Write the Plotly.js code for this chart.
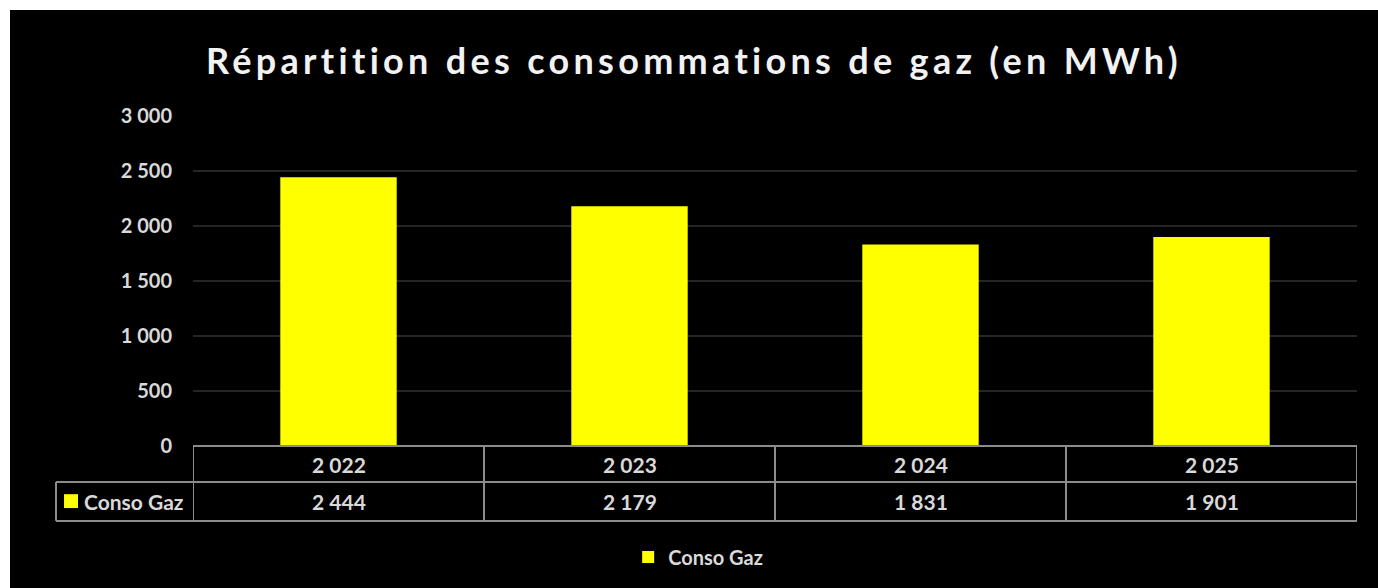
<!DOCTYPE html>
<html><head><meta charset="utf-8">
<script src="https://cdn.plot.ly/plotly-3.0.1.min.js"></script>
<style>
html,body{margin:0;padding:0;background:#fff;overflow:hidden;}
#chart{position:absolute;left:10px;top:10px;width:1368px;height:578px;background:#000;}
#chart .gtitle{letter-spacing:4.3px;}
</style></head>
<body><div id="chart"></div>
<script>
const categories = [2022, 2023, 2024, 2025];
const consoGaz = [2444, 2179, 1831, 1901];
const seriesName = 'Conso Gaz';
const titleText = 'Répartition des consommations de gaz (en MWh)';

function fmt(n){ return String(n).replace(/\B(?=(\d{3})+(?!\d))/g, ' '); }

const FONT = 'Lato, "Open Sans", sans-serif';
const TXT = '#d9d9d9';
const LINE = '#8c8c8c';
const catLabels = categories.map(fmt);

const row1Y = -0.055, row2Y = -0.167;
const row1Bot = -0.109, row2Bot = -0.227;
const labelLeft = -0.1177;

const shapes = [];
shapes.push({type:'line', xref:'paper', yref:'paper', x0:0, x1:1, y0:0, y1:0, line:{color:LINE, width:2}});
shapes.push({type:'line', xref:'paper', yref:'paper', x0:labelLeft, x1:1, y0:row1Bot, y1:row1Bot, line:{color:LINE, width:2}});
shapes.push({type:'line', xref:'paper', yref:'paper', x0:labelLeft, x1:1, y0:row2Bot, y1:row2Bot, line:{color:LINE, width:2}});
shapes.push({type:'line', xref:'paper', yref:'paper', x0:labelLeft, x1:labelLeft, y0:row1Bot, y1:row2Bot, line:{color:LINE, width:2}});
for (let i = 0; i <= categories.length; i++) {
  shapes.push({type:'line', xref:'x', yref:'paper', x0:i-0.5, x1:i-0.5, y0:0, y1:row2Bot, line:{color:LINE, width:2}});
}
shapes.push({type:'rect', xref:'paper', yref:'paper', x0:-0.1108, x1:-0.0988, y0:-0.146, y1:-0.188, fillcolor:'#ffff00', line:{width:0}});

const annotations = [];
categories.forEach((c, i) => {
  annotations.push({xref:'x', yref:'paper', x:i, y:row1Y, text:catLabels[i], showarrow:false, font:{family:FONT, size:21, color:TXT, weight:700}, yanchor:'middle'});
  annotations.push({xref:'x', yref:'paper', x:i, y:row2Y, text:fmt(consoGaz[i]), showarrow:false, font:{family:FONT, size:21, color:TXT, weight:700}, yanchor:'middle'});
});
annotations.push({xref:'paper', yref:'paper', x:-0.0060, y:row2Y, xanchor:'right', yanchor:'middle', text:seriesName, showarrow:false, font:{family:FONT, size:21, color:TXT, weight:700}});

const trace = {
  type:'bar', x:categories.map(String), y:consoGaz, name:seriesName,
  marker:{color:'#ffff00'}, hoverinfo:'skip'
};

const layout = {
  width:1368, height:578,
  paper_bgcolor:'#000', plot_bgcolor:'#000',
  margin:{l:183, r:21, t:106, b:142},
  separators:', ',
  title:{text:titleText, x:0.5, xanchor:'center', xref:'container', y:1-51/578, yref:'container', yanchor:'middle',
         font:{family:FONT, size:36, color:'#f2f2f2', weight:700}},
  bargap:0.6,
  xaxis:{type:'category', showticklabels:false, showgrid:false, zeroline:false, showline:false, ticks:'', range:[-0.5, 3.5]},
  yaxis:{range:[0,3000], tick0:0, dtick:500, tickformat:',d', showgrid:true, gridcolor:'#262626', gridwidth:2,
         zeroline:false, showline:false, ticks:'', ticklabelstandoff:20,
         tickfont:{family:FONT, size:20, color:TXT, weight:700}},
  showlegend:true,
  legend:{orientation:'h', x:0.434, xanchor:'center', y:-0.336, yanchor:'middle', itemwidth:30,
          font:{family:FONT, size:20, color:TXT, weight:700}, bgcolor:'rgba(0,0,0,0)'},
  shapes:shapes, annotations:annotations
};

Plotly.newPlot('chart', [trace], layout, {displayModeBar:false, staticPlot:true});
</script></body></html>
